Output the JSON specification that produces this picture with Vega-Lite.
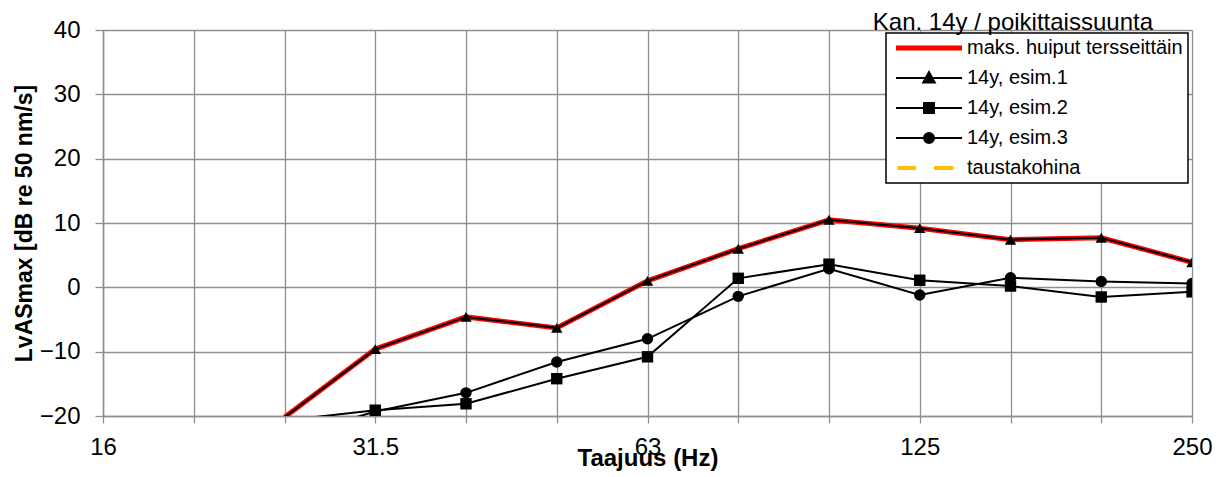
{
  "$schema": "https://vega.github.io/schema/vega-lite/v6.json",
  "width": 1089,
  "height": 386,
  "autosize": {"type": "none"},
  "padding": {"left": 103, "top": 30, "right": 31, "bottom": 61},
  "config": {
    "font": "Liberation Sans",
    "view": {"stroke": null},
    "axis": {"gridColor": "#8f8f8f", "gridWidth": 1.3, "domainColor": "#8f8f8f", "domainWidth": 1.5, "tickColor": "#8f8f8f", "tickWidth": 1.3, "labelColor": "black", "titleColor": "black"}
  },
  "title": {"text": "Kan. 14y / poikittaissuunta", "anchor": "end", "frame": "group", "fontSize": 24, "fontWeight": "normal", "color": "black", "dx": -39, "dy": 39, "offset": 3, "baseline": "alphabetic"},
  "data": {"values": [
    {"freq": "25", "series": "maks. huiput tersseittäin", "value": -20.2},
    {"freq": "31.5", "series": "maks. huiput tersseittäin", "value": -9.6},
    {"freq": "40", "series": "maks. huiput tersseittäin", "value": -4.6},
    {"freq": "50", "series": "maks. huiput tersseittäin", "value": -6.3},
    {"freq": "63", "series": "maks. huiput tersseittäin", "value": 1.0},
    {"freq": "80", "series": "maks. huiput tersseittäin", "value": 6.0},
    {"freq": "100", "series": "maks. huiput tersseittäin", "value": 10.5},
    {"freq": "125", "series": "maks. huiput tersseittäin", "value": 9.2},
    {"freq": "160", "series": "maks. huiput tersseittäin", "value": 7.4},
    {"freq": "200", "series": "maks. huiput tersseittäin", "value": 7.7},
    {"freq": "250", "series": "maks. huiput tersseittäin", "value": 3.9},
    {"freq": "25", "series": "14y, esim.1", "value": -20.2},
    {"freq": "31.5", "series": "14y, esim.1", "value": -9.6},
    {"freq": "40", "series": "14y, esim.1", "value": -4.6},
    {"freq": "50", "series": "14y, esim.1", "value": -6.3},
    {"freq": "63", "series": "14y, esim.1", "value": 1.0},
    {"freq": "80", "series": "14y, esim.1", "value": 6.0},
    {"freq": "100", "series": "14y, esim.1", "value": 10.5},
    {"freq": "125", "series": "14y, esim.1", "value": 9.2},
    {"freq": "160", "series": "14y, esim.1", "value": 7.4},
    {"freq": "200", "series": "14y, esim.1", "value": 7.7},
    {"freq": "250", "series": "14y, esim.1", "value": 3.9},
    {"freq": "25", "series": "14y, esim.2", "value": -20.7},
    {"freq": "31.5", "series": "14y, esim.2", "value": -19.1},
    {"freq": "40", "series": "14y, esim.2", "value": -18.1},
    {"freq": "50", "series": "14y, esim.2", "value": -14.2},
    {"freq": "63", "series": "14y, esim.2", "value": -10.8},
    {"freq": "80", "series": "14y, esim.2", "value": 1.4},
    {"freq": "100", "series": "14y, esim.2", "value": 3.6},
    {"freq": "125", "series": "14y, esim.2", "value": 1.1},
    {"freq": "160", "series": "14y, esim.2", "value": 0.2},
    {"freq": "200", "series": "14y, esim.2", "value": -1.5},
    {"freq": "250", "series": "14y, esim.2", "value": -0.7},
    {"freq": "25", "series": "14y, esim.3", "value": -23.5},
    {"freq": "31.5", "series": "14y, esim.3", "value": -19.3},
    {"freq": "40", "series": "14y, esim.3", "value": -16.4},
    {"freq": "50", "series": "14y, esim.3", "value": -11.6},
    {"freq": "63", "series": "14y, esim.3", "value": -8.0},
    {"freq": "80", "series": "14y, esim.3", "value": -1.4},
    {"freq": "100", "series": "14y, esim.3", "value": 2.9},
    {"freq": "125", "series": "14y, esim.3", "value": -1.2},
    {"freq": "160", "series": "14y, esim.3", "value": 1.5},
    {"freq": "200", "series": "14y, esim.3", "value": 0.9},
    {"freq": "250", "series": "14y, esim.3", "value": 0.6}
  ]},
  "encoding": {
    "x": {
      "field": "freq", "type": "ordinal",
      "scale": {"type": "point", "padding": 0, "domain": ["16", "20", "25", "31.5", "40", "50", "63", "80", "100", "125", "160", "200", "250"]},
      "axis": {
        "title": "Taajuus (Hz)", "titleFontSize": 24, "titleFontWeight": "bold", "titleBaseline": "alphabetic", "titleY": 49,
        "labelAngle": 0, "labelFontSize": 24, "labelPadding": 12, "tickSize": 7, "grid": true,
        "labelExpr": "indexof(['16','31.5','63','125','250'], datum.value) >= 0 ? datum.value : ''"
      }
    },
    "y": {
      "field": "value", "type": "quantitative",
      "scale": {"domain": [-20, 40], "nice": false, "zero": false},
      "axis": {
        "title": "LvASmax [dB re 50 nm/s]", "titleFontSize": 23, "titleFontWeight": "bold", "titlePadding": 3,
        "values": [-20, -10, 0, 10, 20, 30, 40], "labelFontSize": 24, "labelPadding": 15, "tickSize": 8, "grid": true
      }
    }
  },
  "layer": [
    {
      "transform": [{"filter": "datum.series === 'maks. huiput tersseittäin'"}],
      "mark": {"type": "line", "strokeWidth": 5, "clip": true},
      "encoding": {
        "color": {
          "field": "series", "type": "nominal",
          "scale": {"domain": ["maks. huiput tersseittäin", "14y, esim.1", "14y, esim.2", "14y, esim.3", "taustakohina"], "range": ["#ff0000", "#000000", "#000000", "#000000", "#ffc000"]},
          "legend": {
            "title": null, "orient": "none", "legendX": 783, "legendY": 3,
            "strokeColor": "black", "fillColor": "white", "padding": 5,
            "labelFontSize": 20, "labelColor": "black", "labelLimit": 400,
            "symbolSize": 100, "symbolOffset": 28, "labelOffset": 28, "rowPadding": 10,
            "encode": {
              "legend": {"update": {"strokeWidth": {"value": 1.5}}},
              "symbols": {"update": {
                "shape": {"signal": "datum.value === 'maks. huiput tersseittäin' ? 'M-6.6,0H6.6' : datum.value === '14y, esim.1' ? 'M-6.6,0H6.6M0,-1.2L1.15,0.9L-1.15,0.9Z' : datum.value === '14y, esim.2' ? 'M-6.6,0H6.6M-1,-1H1V1H-1Z' : datum.value === '14y, esim.3' ? 'M-6.6,0H6.6M1,0A1,1,0,1,1,-1,0A1,1,0,1,1,1,0Z' : 'M-6.3,0H-2.6M1,0H4.9'"},
                "strokeWidth": {"signal": "datum.value === 'maks. huiput tersseittäin' ? 5 : datum.value === 'taustakohina' ? 4 : 2"},
                "fill": {"signal": "datum.value === 'maks. huiput tersseittäin' || datum.value === 'taustakohina' ? 'transparent' : 'black'"},
                "opacity": {"value": 1}
              }}
            }
          }
        }
      }
    },
    {
      "transform": [{"filter": "datum.series !== 'maks. huiput tersseittäin'"}],
      "mark": {"type": "line", "strokeWidth": 2, "clip": true},
      "encoding": {
        "color": {"field": "series", "type": "nominal"}
      }
    },
    {
      "transform": [{"filter": "datum.series !== 'maks. huiput tersseittäin' && datum.value >= -20"}],
      "mark": {"type": "point", "filled": true, "size": 130, "opacity": 1, "color": "black", "clip": true},
      "encoding": {
        "shape": {
          "field": "series", "type": "nominal",
          "scale": {"domain": ["14y, esim.1", "14y, esim.2", "14y, esim.3"], "range": ["triangle-up", "square", "circle"]},
          "legend": null
        }
      }
    }
  ]
}
